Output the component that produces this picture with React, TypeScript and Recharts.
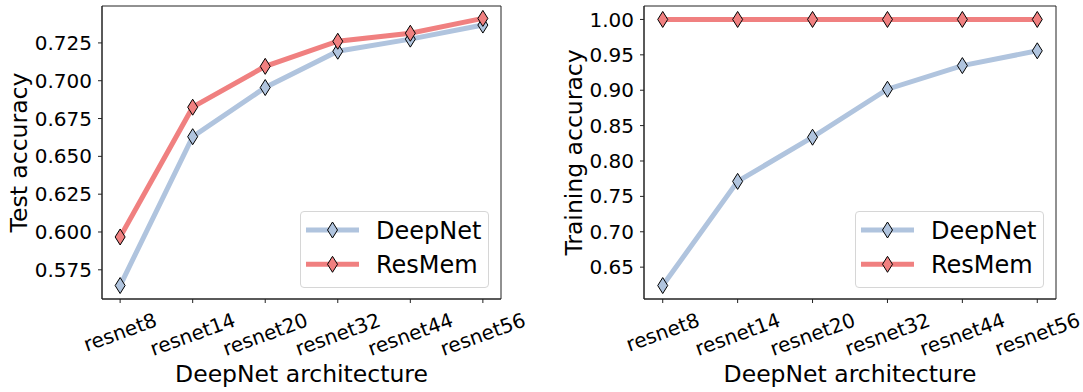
import React from 'react';
import { LineChart, Line, XAxis, YAxis, Legend, ReferenceArea } from 'recharts';

const categories = ['resnet8', 'resnet14', 'resnet20', 'resnet32', 'resnet44', 'resnet56'];
const seriesNames = ['DeepNet', 'ResMem'];
const testDeepNet = [0.5646, 0.663, 0.6955, 0.7195, 0.7275, 0.7368];
const testResMem = [0.5967, 0.6825, 0.7095, 0.7261, 0.7314, 0.7412];
const trainDeepNet = [0.624, 0.7712, 0.8336, 0.9014, 0.9348, 0.9557];
const trainResMem = [1.0, 1.0, 1.0, 1.0, 1.0, 1.0];
const testTicks = [0.575, 0.6, 0.625, 0.65, 0.675, 0.7, 0.725];
const trainTicks = [0.65, 0.7, 0.75, 0.8, 0.85, 0.9, 0.95, 1.0];
const xTicks = [0, 1, 2, 3, 4, 5];

const testData = categories.map((c, i) => ({ idx: i, name: c, DeepNet: testDeepNet[i], ResMem: testResMem[i] }));
const trainData = categories.map((c, i) => ({ idx: i, name: c, DeepNet: trainDeepNet[i], ResMem: trainResMem[i] }));

const BLUE = '#b0c4de';
const RED = '#f08080';
const FONT = 'DejaVu Sans';
const AX = '#222';
const X_DOMAIN: [number, number] = [-0.25, 5.25];
const XT_SIZE = 20;
const LABEL_SIZE = 23.5;
const LEGEND_SIZE = 24;

const charW: Record<string, number> = { r: 0.411, e: 0.615, s: 0.521, n: 0.634, t: 0.392 };
const textWidth = (s: string, size: number) =>
  s.split('').reduce((a, ch) => a + (charW[ch] ?? 0.636), 0) * size;

const XTick = (props: any) => {
  const { x, y, payload } = props;
  const label = categories[payload.value] ?? '';
  const w = textWidth(label, XT_SIZE) * 0.93;
  const cy = y + (w * 0.342 + XT_SIZE * 0.9) / 2;
  return (
    <text
      x={x}
      y={cy}
      transform={`rotate(-20, ${x}, ${cy})`}
      textAnchor="middle"
      dominantBaseline="central"
      fontSize={XT_SIZE}
      fontFamily={FONT}
      fill="#000"
    >
      {label}
    </text>
  );
};

const makeDot = (color: string) => (props: any) => {
  const { cx, cy, index } = props;
  if (cx == null || cy == null) return <g key={`d${index}`} />;
  const hw = 5;
  const hh = 8;
  return (
    <polygon
      key={`d${color}${index}`}
      points={`${cx},${cy - hh} ${cx + hw},${cy} ${cx},${cy + hh} ${cx - hw},${cy}`}
      fill={color}
      stroke="#000"
      strokeWidth={1}
    />
  );
};

const LegendBox = () => {
  const colors = [BLUE, RED];
  const rows = [18, 52.3];
  return (
    <div
      style={{
        width: 189,
        height: 77,
        boxSizing: 'border-box',
        border: '1px solid #d6d6d6',
        borderRadius: 4,
        background: 'rgba(255,255,255,0.8)',
      }}
    >
      <svg width={187} height={75} style={{ display: 'block' }}>
        {seriesNames.map((n, i) => (
          <g key={n}>
            <line x1={5} x2={58} y1={rows[i]} y2={rows[i]} stroke={colors[i]} strokeWidth={5} />
            <polygon
              points={`31.5,${rows[i] - 8} 36.5,${rows[i]} 31.5,${rows[i] + 8} 26.5,${rows[i]}`}
              fill={colors[i]}
              stroke="#000"
              strokeWidth={1}
            />
            <text x={75} y={rows[i] + 8.5} fontSize={LEGEND_SIZE} fontFamily={FONT} fill="#000">
              {n}
            </text>
          </g>
        ))}
      </svg>
    </div>
  );
};

const YLabel = (text: string, bx: number) => (props: any) => {
  const vb = props.viewBox || {};
  const cy = (vb.y ?? 0) + (vb.height ?? 0) / 2;
  const x = (vb.x ?? 0) + bx;
  return (
    <text
      x={x}
      y={cy}
      transform={`rotate(-90, ${x}, ${cy})`}
      textAnchor="middle"
      fontSize={LABEL_SIZE}
      fontFamily={FONT}
      fill="#000"
    >
      {text}
    </text>
  );
};

const XLabel = (props: any) => {
  const vb = props.viewBox || {};
  const cx = (vb.x ?? 0) + (vb.width ?? 0) / 2;
  const y = (vb.y ?? 0) + (vb.height ?? 0) - 10;
  return (
    <text x={cx} y={y} textAnchor="middle" fontSize={LABEL_SIZE} fontFamily={FONT} fill="#000">
      DeepNet architecture
    </text>
  );
};

type PanelProps = {
  data: any[];
  width: number;
  yWidth: number;
  rightMargin: number;
  domain: [number, number];
  ticks: number[];
  digits: number;
  yLabel: string;
  yLabelX: number;
  legendLeft: number;
};

const Panel = (p: PanelProps) => (
  <LineChart
    width={p.width}
    height={392}
    data={p.data}
    margin={{ top: 6, right: p.rightMargin, bottom: 0, left: 0 }}
    style={{ fontFamily: FONT }}
  >
    <XAxis
      dataKey="idx"
      type="number"
      domain={X_DOMAIN}
      ticks={xTicks}
      allowDataOverflow
      height={93}
      tickSize={4}
      tickMargin={8}
      tick={<XTick />}
      axisLine={{ stroke: AX, strokeWidth: 1 }}
      tickLine={{ stroke: AX, strokeWidth: 1 }}
      label={<XLabel />}
      interval={0}
    />
    <YAxis
      type="number"
      domain={p.domain}
      ticks={p.ticks}
      allowDataOverflow
      width={p.yWidth}
      tickSize={4}
      tickMargin={6}
      interval={0}
      tickFormatter={(v: number) => v.toFixed(p.digits)}
      tick={{ fontSize: 20, fill: '#000', fontFamily: FONT }}
      axisLine={{ stroke: AX, strokeWidth: 1 }}
      tickLine={{ stroke: AX, strokeWidth: 1 }}
      label={YLabel(p.yLabel, p.yLabelX)}
    />
    <ReferenceArea
      x1={X_DOMAIN[0]}
      x2={X_DOMAIN[1]}
      y1={p.domain[0]}
      y2={p.domain[1]}
      fill="none"
      fillOpacity={0}
      stroke={AX}
      strokeWidth={1}
      ifOverflow="visible"
    />
    <Line
      dataKey="DeepNet"
      stroke={BLUE}
      strokeWidth={5}
      dot={makeDot(BLUE)}
      activeDot={false}
      isAnimationActive={false}
    />
    <Line
      dataKey="ResMem"
      stroke={RED}
      strokeWidth={5}
      dot={makeDot(RED)}
      activeDot={false}
      isAnimationActive={false}
    />
    <Legend
      layout="vertical"
      align="center"
      verticalAlign="middle"
      content={<LegendBox />}
      wrapperStyle={{ left: p.legendLeft, top: 211, width: 189, height: 77 }}
    />
  </LineChart>
);

export default function App() {
  return (
    <div style={{ position: 'absolute', left: 0, top: 0, width: 1083, height: 392, background: '#fff' }}>
      <div style={{ position: 'absolute', left: 0, top: 0 }}>
        <Panel
          data={testData}
          width={530}
          yWidth={102}
          rightMargin={29}
          domain={[0.5557, 0.7494]}
          ticks={testTicks}
          digits={3}
          yLabel="Test accuracy"
          yLabelX={27}
          legendLeft={300}
        />
      </div>
      <div style={{ position: 'absolute', left: 530, top: 0 }}>
        <Panel
          data={trainData}
          width={553}
          yWidth={114}
          rightMargin={27}
          domain={[0.605, 1.019]}
          ticks={trainTicks}
          digits={2}
          yLabel="Training accuracy"
          yLabelX={51.5}
          legendLeft={325}
        />
      </div>
    </div>
  );
}
